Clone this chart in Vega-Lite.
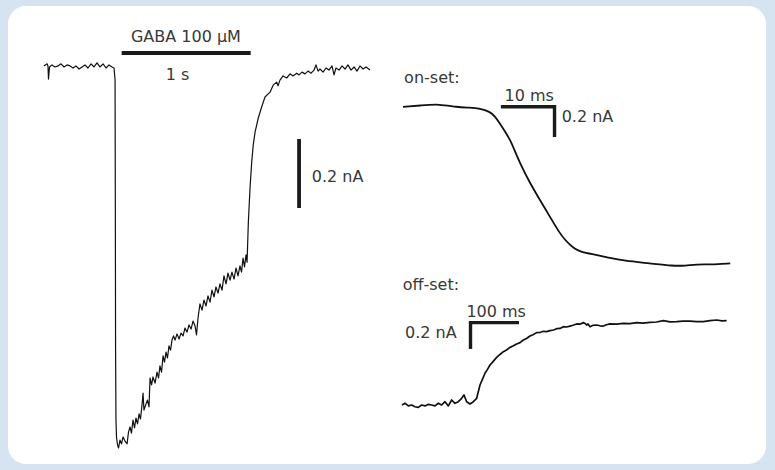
{
  "$schema": "https://vega.github.io/schema/vega-lite/v6.json",
  "width": 775,
  "height": 470,
  "autosize": {"type": "fit", "contains": "padding"},
  "padding": {"left": 8, "right": 9, "top": 6, "bottom": 6},
  "background": "#d6e4f1",
  "config": {
    "view": {"fill": "white", "stroke": null, "cornerRadius": 18},
    "text": {"font": "DejaVu Sans", "fontSize": 16, "color": "#383838", "align": "left", "baseline": "alphabetic"}
  },
  "datasets": {
    "main": [
      {"t": -8, "i": 6}, {"t": 16, "i": 12}, {"t": 23, "i": 6}, {"t": 27, "i": -32}, {"t": 35, "i": 3},
      {"t": 54, "i": 9}, {"t": 78, "i": 3}, {"t": 101, "i": 6}, {"t": 124, "i": 12}, {"t": 147, "i": 3},
      {"t": 171, "i": 9}, {"t": 194, "i": 6}, {"t": 217, "i": 0}, {"t": 240, "i": 6}, {"t": 264, "i": -3},
      {"t": 287, "i": 3}, {"t": 310, "i": 9}, {"t": 333, "i": 0}, {"t": 357, "i": 12}, {"t": 380, "i": 3},
      {"t": 403, "i": 15}, {"t": 426, "i": 3}, {"t": 450, "i": 12}, {"t": 473, "i": 0}, {"t": 496, "i": 9},
      {"t": 519, "i": 3}, {"t": 535, "i": 0},
      {"t": 543, "i": -35}, {"t": 545, "i": -383}, {"t": 547, "i": -818}, {"t": 550, "i": -1021},
      {"t": 554, "i": -1070}, {"t": 562, "i": -1093}, {"t": 570, "i": -1102},
      {"t": 581, "i": -1079}, {"t": 593, "i": -1090}, {"t": 605, "i": -1070}, {"t": 620, "i": -1082},
      {"t": 636, "i": -1090}, {"t": 647, "i": -1056}, {"t": 659, "i": -1041}, {"t": 670, "i": -1059},
      {"t": 682, "i": -1021}, {"t": 694, "i": -1044}, {"t": 705, "i": -1015}, {"t": 717, "i": -1032},
      {"t": 729, "i": -1003}, {"t": 740, "i": -1018}, {"t": 752, "i": -977}, {"t": 760, "i": -943},
      {"t": 767, "i": -992}, {"t": 783, "i": -974}, {"t": 794, "i": -963}, {"t": 806, "i": -983},
      {"t": 814, "i": -899}, {"t": 826, "i": -919}, {"t": 837, "i": -896}, {"t": 853, "i": -914},
      {"t": 868, "i": -882}, {"t": 880, "i": -899}, {"t": 891, "i": -864}, {"t": 903, "i": -882},
      {"t": 915, "i": -835}, {"t": 926, "i": -853}, {"t": 938, "i": -824}, {"t": 949, "i": -841},
      {"t": 961, "i": -806}, {"t": 973, "i": -818}, {"t": 984, "i": -789}, {"t": 996, "i": -777},
      {"t": 1008, "i": -789}, {"t": 1023, "i": -771}, {"t": 1039, "i": -786}, {"t": 1054, "i": -769},
      {"t": 1070, "i": -777}, {"t": 1085, "i": -754}, {"t": 1101, "i": -766}, {"t": 1116, "i": -745},
      {"t": 1132, "i": -757}, {"t": 1147, "i": -734}, {"t": 1163, "i": -748}, {"t": 1174, "i": -774},
      {"t": 1186, "i": -725}, {"t": 1201, "i": -684}, {"t": 1217, "i": -702}, {"t": 1232, "i": -673},
      {"t": 1248, "i": -690}, {"t": 1263, "i": -661}, {"t": 1279, "i": -679}, {"t": 1294, "i": -644},
      {"t": 1310, "i": -664}, {"t": 1325, "i": -635}, {"t": 1341, "i": -653}, {"t": 1356, "i": -626},
      {"t": 1372, "i": -644}, {"t": 1387, "i": -603}, {"t": 1403, "i": -626}, {"t": 1418, "i": -595},
      {"t": 1434, "i": -615}, {"t": 1449, "i": -592}, {"t": 1465, "i": -612}, {"t": 1480, "i": -580},
      {"t": 1496, "i": -603}, {"t": 1511, "i": -574}, {"t": 1523, "i": -592}, {"t": 1535, "i": -551},
      {"t": 1546, "i": -577}, {"t": 1558, "i": -542}, {"t": 1566, "i": -563},
      {"t": 1576, "i": -447}, {"t": 1589, "i": -348}, {"t": 1602, "i": -273}, {"t": 1614, "i": -223},
      {"t": 1628, "i": -186}, {"t": 1653, "i": -145}, {"t": 1679, "i": -113}, {"t": 1705, "i": -84},
      {"t": 1744, "i": -70}, {"t": 1769, "i": -49}, {"t": 1796, "i": -41}, {"t": 1806, "i": -52},
      {"t": 1821, "i": -35}, {"t": 1845, "i": -23}, {"t": 1873, "i": -29}, {"t": 1899, "i": -17},
      {"t": 1922, "i": -23}, {"t": 1951, "i": -15}, {"t": 1969, "i": -20}, {"t": 1992, "i": -12},
      {"t": 2015, "i": -17}, {"t": 2038, "i": -9}, {"t": 2062, "i": -15}, {"t": 2085, "i": -6},
      {"t": 2100, "i": 9}, {"t": 2116, "i": -9}, {"t": 2131, "i": -3}, {"t": 2155, "i": -12},
      {"t": 2178, "i": 0}, {"t": 2201, "i": -6}, {"t": 2224, "i": 6}, {"t": 2240, "i": -20},
      {"t": 2255, "i": 0}, {"t": 2279, "i": -6}, {"t": 2302, "i": 6}, {"t": 2325, "i": -3},
      {"t": 2348, "i": 9}, {"t": 2372, "i": -6}, {"t": 2395, "i": 3}, {"t": 2418, "i": -9},
      {"t": 2441, "i": 6}, {"t": 2465, "i": -3}, {"t": 2488, "i": 3}, {"t": 2519, "i": -6}
    ],
    "mainBars": [
      {"t1": 594, "t2": 1594, "i1": 43.5, "i2": 43.5},
      {"t1": 1969, "t2": 1969, "i1": -206, "i2": -406}
    ],
    "mainLabels": [
      {"t": 666, "i": 76, "label": "GABA 100 µM"},
      {"t": 935, "i": -35, "label": "1 s"},
      {"t": 2067, "i": -331, "label": "0.2 nA"}
    ],
    "onset": [
      {"t": 0, "i": -5}, {"t": 3.1, "i": 3}, {"t": 6.7, "i": 13}, {"t": 9.8, "i": -8}, {"t": 12.2, "i": -10},
      {"t": 14, "i": -15}, {"t": 15.8, "i": -37}, {"t": 16.7, "i": -65}, {"t": 17.6, "i": -112},
      {"t": 18.5, "i": -161}, {"t": 19.5, "i": -219}, {"t": 20.4, "i": -297}, {"t": 21.3, "i": -370},
      {"t": 23.1, "i": -499}, {"t": 24.9, "i": -606}, {"t": 26.7, "i": -714}, {"t": 28.5, "i": -821},
      {"t": 29.5, "i": -865}, {"t": 30.4, "i": -897}, {"t": 31.3, "i": -923}, {"t": 32.2, "i": -940},
      {"t": 35.2, "i": -961}, {"t": 37.6, "i": -981}, {"t": 40.1, "i": -998}, {"t": 44.9, "i": -1015},
      {"t": 49.1, "i": -1032}, {"t": 51.3, "i": -1031}, {"t": 53.4, "i": -1021}, {"t": 55.8, "i": -1023},
      {"t": 59.5, "i": -1015}
    ],
    "onsetBars": [
      {"t1": 17.8, "t2": 27.8, "i1": -5, "i2": -5},
      {"t1": 27.55, "t2": 27.55, "i1": 6, "i2": -200}
    ],
    "onsetLabels": [
      {"t": 0.2, "i": 146, "label": "on-set:"},
      {"t": 18.45, "i": 34, "label": "10 ms"},
      {"t": 28.85, "i": -101, "label": "0.2 nA"}
    ],
    "offset": [
      {"t": 0, "i": -646}, {"t": 6, "i": -633}, {"t": 12.7, "i": -653}, {"t": 19.3, "i": -646},
      {"t": 26, "i": -659}, {"t": 32.7, "i": -664}, {"t": 39.3, "i": -646}, {"t": 46, "i": -653},
      {"t": 52.7, "i": -641}, {"t": 59.3, "i": -646}, {"t": 66, "i": -653}, {"t": 72.7, "i": -633},
      {"t": 79.3, "i": -646}, {"t": 86, "i": -621}, {"t": 92.7, "i": -653}, {"t": 99.3, "i": -608},
      {"t": 106, "i": -633}, {"t": 112.7, "i": -621}, {"t": 119.3, "i": -595}, {"t": 124, "i": -570},
      {"t": 129.3, "i": -621}, {"t": 136, "i": -638}, {"t": 142.7, "i": -621}, {"t": 149.3, "i": -595},
      {"t": 156, "i": -494}, {"t": 161, "i": -450}, {"t": 166, "i": -405}, {"t": 171, "i": -375},
      {"t": 176, "i": -342}, {"t": 182, "i": -316}, {"t": 189.3, "i": -284}, {"t": 196, "i": -262},
      {"t": 202.7, "i": -241}, {"t": 209, "i": -228}, {"t": 216, "i": -208}, {"t": 222, "i": -198},
      {"t": 229.3, "i": -182}, {"t": 236, "i": -172}, {"t": 242.7, "i": -152}, {"t": 249, "i": -140},
      {"t": 256, "i": -122}, {"t": 262, "i": -112}, {"t": 269.3, "i": -96}, {"t": 276, "i": -95},
      {"t": 282.7, "i": -86}, {"t": 289, "i": -88}, {"t": 296, "i": -81}, {"t": 303, "i": -76},
      {"t": 309.3, "i": -66}, {"t": 316, "i": -64}, {"t": 322.7, "i": -51}, {"t": 329, "i": -53},
      {"t": 336, "i": -46}, {"t": 342, "i": -40}, {"t": 349.3, "i": -30}, {"t": 356, "i": -32},
      {"t": 362.7, "i": -20}, {"t": 366, "i": -26}, {"t": 369.3, "i": -38}, {"t": 372, "i": -30},
      {"t": 376, "i": -51}, {"t": 382, "i": -40}, {"t": 389.3, "i": -38}, {"t": 396, "i": -44},
      {"t": 402.7, "i": -46}, {"t": 409, "i": -36}, {"t": 416, "i": -30}, {"t": 429, "i": -32},
      {"t": 442.7, "i": -25}, {"t": 456, "i": -27}, {"t": 469.3, "i": -20}, {"t": 482, "i": -24},
      {"t": 496, "i": -18}, {"t": 509, "i": -15}, {"t": 522.7, "i": -5}, {"t": 536, "i": -14},
      {"t": 549.3, "i": -13}, {"t": 562, "i": -8}, {"t": 576, "i": -8}, {"t": 589, "i": -12},
      {"t": 602.7, "i": -13}, {"t": 616, "i": -5}, {"t": 629.3, "i": 0}, {"t": 640, "i": -6},
      {"t": 649.3, "i": -5}
    ],
    "offsetBars": [
      {"t1": 134, "t2": 234, "i1": -20, "i2": -20},
      {"t1": 137, "t2": 137, "i1": -9, "i2": -220}
    ],
    "offsetLabels": [
      {"t": 1.3, "i": 228, "label": "off-set:"},
      {"t": 128.8, "i": 25, "label": "100 ms"},
      {"t": 6, "i": -139, "label": "0.2 nA"}
    ]
  },
  "layer": [
    {
      "layer": [
        {
          "data": {"name": "main"},
          "mark": {"type": "line", "color": "#111111", "strokeWidth": 1.2, "strokeJoin": "round"},
          "encoding": {
            "x": {"field": "t", "type": "quantitative", "axis": null, "scale": {"domain": [-286.75, 5587.75], "nice": false, "zero": false}},
            "y": {"field": "i", "type": "quantitative", "axis": null, "scale": {"domain": [-1148.4, 179.8], "nice": false, "zero": false}}
          }
        },
        {
          "data": {"name": "mainBars"},
          "mark": {"type": "rule", "color": "#1a1a1a", "strokeWidth": 3.8},
          "encoding": {
            "x": {"field": "t1", "type": "quantitative", "axis": null, "scale": {"domain": [-286.75, 5587.75], "nice": false, "zero": false}},
            "x2": {"field": "t2"},
            "y": {"field": "i1", "type": "quantitative", "axis": null, "scale": {"domain": [-1148.4, 179.8], "nice": false, "zero": false}},
            "y2": {"field": "i2"}
          }
        },
        {
          "data": {"name": "mainLabels"},
          "mark": {"type": "text"},
          "encoding": {
            "x": {"field": "t", "type": "quantitative", "axis": null, "scale": {"domain": [-286.75, 5587.75], "nice": false, "zero": false}},
            "y": {"field": "i", "type": "quantitative", "axis": null, "scale": {"domain": [-1148.4, 179.8], "nice": false, "zero": false}},
            "text": {"field": "label"}
          }
        }
      ]
    },
    {
      "layer": [
        {
          "data": {"name": "onset"},
          "mark": {"type": "line", "color": "#111111", "strokeWidth": 1.8, "interpolate": "basis"},
          "encoding": {
            "x": {"field": "t", "type": "quantitative", "axis": null, "scale": {"domain": [-71.818, 66], "nice": false, "zero": false}},
            "y": {"field": "i", "type": "quantitative", "axis": null, "scale": {"domain": [-2309.8, 645.2], "nice": false, "zero": false}}
          }
        },
        {
          "data": {"name": "onsetBars"},
          "mark": {"type": "rule", "color": "#1a1a1a", "strokeWidth": 3.4},
          "encoding": {
            "x": {"field": "t1", "type": "quantitative", "axis": null, "scale": {"domain": [-71.818, 66], "nice": false, "zero": false}},
            "x2": {"field": "t2"},
            "y": {"field": "i1", "type": "quantitative", "axis": null, "scale": {"domain": [-2309.8, 645.2], "nice": false, "zero": false}},
            "y2": {"field": "i2"}
          }
        },
        {
          "data": {"name": "onsetLabels"},
          "mark": {"type": "text"},
          "encoding": {
            "x": {"field": "t", "type": "quantitative", "axis": null, "scale": {"domain": [-71.818, 66], "nice": false, "zero": false}},
            "y": {"field": "i", "type": "quantitative", "axis": null, "scale": {"domain": [-2309.8, 645.2], "nice": false, "zero": false}},
            "text": {"field": "label"}
          }
        }
      ]
    },
    {
      "layer": [
        {
          "data": {"name": "offset"},
          "mark": {"type": "line", "color": "#111111", "strokeWidth": 1.7, "strokeJoin": "round"},
          "encoding": {
            "x": {"field": "t", "type": "quantitative", "axis": null, "scale": {"domain": [-788, 728], "nice": false, "zero": false}},
            "y": {"field": "i", "type": "quantitative", "axis": null, "scale": {"domain": [-1094.4, 2386.4], "nice": false, "zero": false}}
          }
        },
        {
          "data": {"name": "offsetBars"},
          "mark": {"type": "rule", "color": "#1a1a1a", "strokeWidth": 3.4},
          "encoding": {
            "x": {"field": "t1", "type": "quantitative", "axis": null, "scale": {"domain": [-788, 728], "nice": false, "zero": false}},
            "x2": {"field": "t2"},
            "y": {"field": "i1", "type": "quantitative", "axis": null, "scale": {"domain": [-1094.4, 2386.4], "nice": false, "zero": false}},
            "y2": {"field": "i2"}
          }
        },
        {
          "data": {"name": "offsetLabels"},
          "mark": {"type": "text"},
          "encoding": {
            "x": {"field": "t", "type": "quantitative", "axis": null, "scale": {"domain": [-788, 728], "nice": false, "zero": false}},
            "y": {"field": "i", "type": "quantitative", "axis": null, "scale": {"domain": [-1094.4, 2386.4], "nice": false, "zero": false}},
            "text": {"field": "label"}
          }
        }
      ]
    }
  ],
  "resolve": {"scale": {"x": "independent", "y": "independent"}}
}
